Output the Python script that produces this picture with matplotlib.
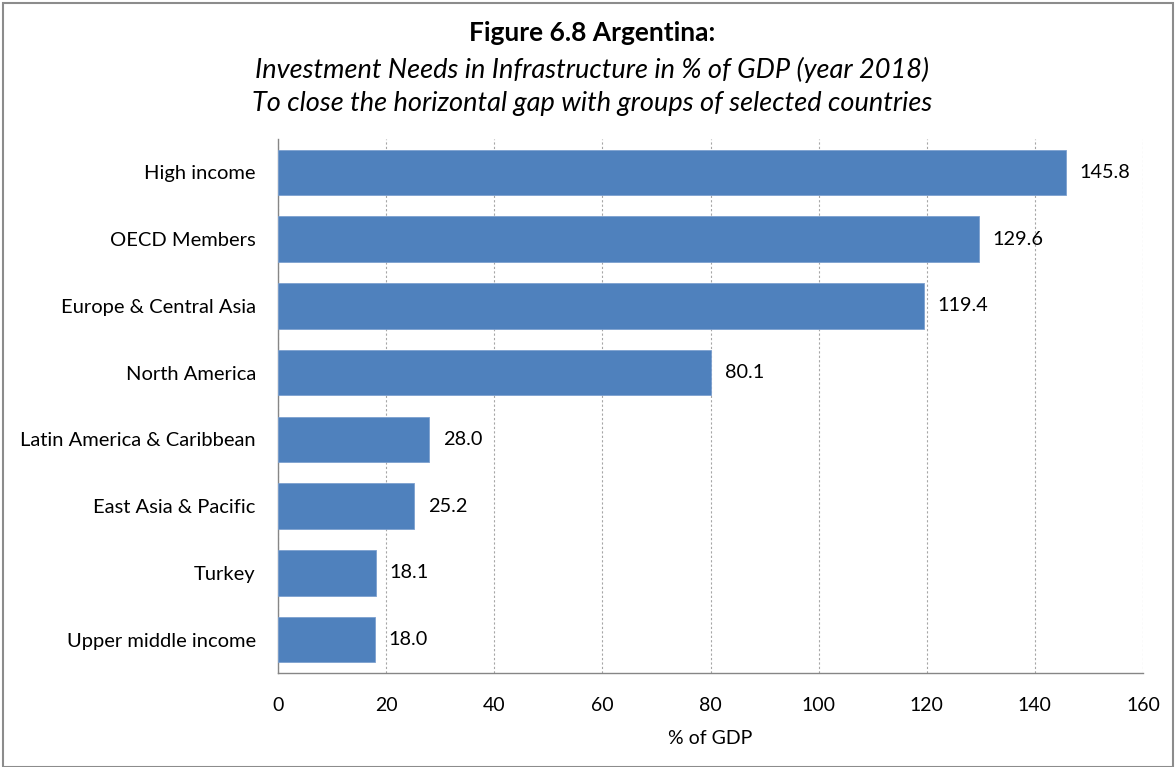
import matplotlib
matplotlib.use("Agg")
import matplotlib.pyplot as plt
from matplotlib.patches import Rectangle

categories = ["High income", "OECD Members", "Europe & Central Asia", "North America",
              "Latin America & Caribbean", "East Asia & Pacific", "Turkey", "Upper middle income"]
values = [145.8, 129.6, 119.4, 80.1, 28.0, 25.2, 18.1, 18.0]
xticks = [0, 20, 40, 60, 80, 100, 120, 140, 160]

plt.rcParams['font.family'] = ['Lato', 'DejaVu Sans']

fig = plt.figure(figsize=(11.76, 7.67), dpi=100)
ax = fig.add_axes([278/1176, 1-673/767, (1143-278)/1176, (673-139)/767])

ypos = list(range(len(categories)))
ax.barh(ypos, values, height=0.68, color="#4F81BD", edgecolor="#7DA0CF", linewidth=0.6, zorder=3)
for y, v in zip(ypos, values):
    ax.text(v + 2.5, y, f"{v:.1f}", va="center", ha="left", fontsize=14.3, color="black")

ax.set_ylim(len(categories) - 0.5, -0.5)
ax.set_xlim(0, 160)
ax.set_yticks(ypos)
ax.set_yticklabels(categories, fontsize=14.5)
ax.set_xticks(xticks)
ax.set_xticklabels([str(t) for t in xticks], fontsize=14)
ax.tick_params(axis="both", length=0)
ax.tick_params(axis="y", pad=16)
ax.tick_params(axis="x", pad=17)
ax.xaxis.grid(True, linestyle=(0, (2, 2)), color="#A6A6A6", linewidth=0.8, zorder=0)
ax.set_axisbelow(True)
for s in ["top", "right"]:
    ax.spines[s].set_visible(False)
for s in ["left", "bottom"]:
    ax.spines[s].set_color("#868686")
    ax.spines[s].set_linewidth(1.0)
ax.set_xlabel("% of GDP", fontsize=14, labelpad=12)

fig.text(592/1176, 1-33/767, "Figure 6.8 Argentina:", ha="center", va="center",
         fontsize=19, fontweight="bold")
fig.text(592/1176, 1-70/767, "Investment Needs in Infrastructure in % of GDP (year 2018)",
         ha="center", va="center", fontsize=19.5, style="italic")
fig.text(592/1176, 1-103/767, "To close the horizontal gap with groups of selected countries",
         ha="center", va="center", fontsize=19.5, style="italic")

fig.patches.append(Rectangle((3/1176, 0), 1 - 6/1176, 1 - 3/767, transform=fig.transFigure,
                             fill=False, edgecolor="#8C8C8C", linewidth=1.5))

fig.savefig("out.png", dpi=100, facecolor="white")
